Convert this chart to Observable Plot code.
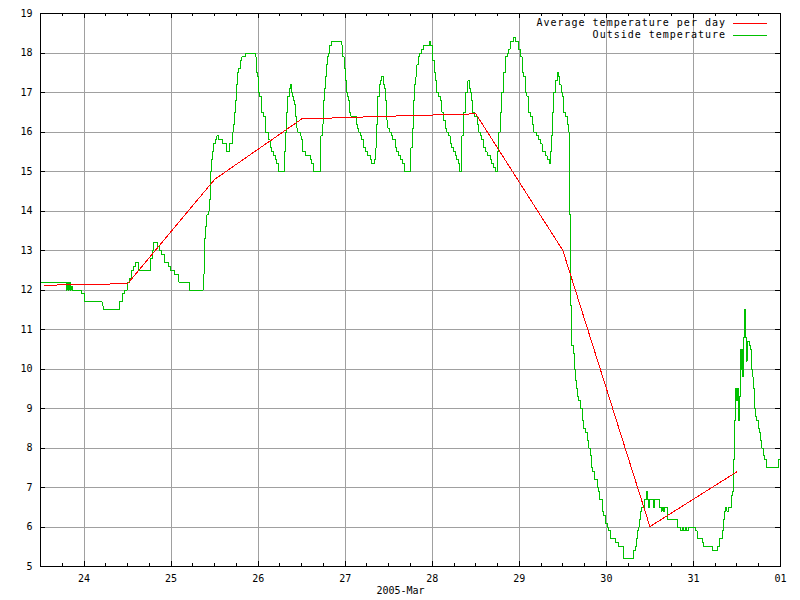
<!DOCTYPE html>
<html>
<head>
<meta charset="utf-8">
<script src="https://cdn.jsdelivr.net/npm/d3@7"></script>
<script src="https://cdn.jsdelivr.net/npm/@observablehq/plot@0.6"></script>
<style>
  html, body { margin: 0; padding: 0; background: #fff; }
  #chart svg path, #chart svg line { shape-rendering: crispEdges; }
</style>
</head>
<body>
<div id="chart"></div>
<script>
// Day-of-March (decimal), e.g. 23.5 = 2005-03-23 12:00, 32 = 2005-04-01 00:00
const avgDays = [23.54, 24.5, 25.5, 26.5, 27.5, 28.5, 29.5, 30.5, 31.5];
const avgTemp = [12.12, 12.16, 14.8, 16.33, 16.40, 16.46, 13.0, 6.01, 7.40];

const outsideDays = [
23.502,23.793,23.805,23.816,23.828,23.839,23.851,23.862,23.966,24.011,24.207,24.218,24.402,24.437,24.460,24.498,24.521,24.540,24.567,24.590,
24.621,24.762,24.782,24.797,24.843,24.866,24.893,24.923,24.969,24.989,25.034,25.089,25.210,25.368,25.379,25.387,25.399,25.410,25.425,25.437,
25.452,25.463,25.475,25.486,25.506,25.525,25.544,25.594,25.640,25.670,25.709,25.716,25.728,25.739,25.751,25.762,25.778,25.793,25.813,25.859,
25.966,25.977,25.985,25.992,26.003,26.017,26.043,26.061,26.080,26.118,26.138,26.149,26.176,26.195,26.215,26.233,26.302,26.318,26.330,26.341,
26.356,26.368,26.379,26.394,26.406,26.417,26.433,26.445,26.456,26.483,26.494,26.509,26.548,26.598,26.617,26.636,26.721,26.736,26.747,26.759,
26.770,26.785,26.797,26.808,26.820,26.847,26.962,26.974,26.989,27.000,27.011,27.026,27.038,27.049,27.066,27.126,27.141,27.153,27.172,27.192,
27.210,27.230,27.256,27.287,27.307,27.341,27.353,27.364,27.376,27.391,27.402,27.414,27.440,27.452,27.463,27.471,27.479,27.491,27.509,27.529,
27.548,27.575,27.594,27.613,27.640,27.659,27.682,27.755,27.778,27.790,27.801,27.813,27.824,27.839,27.859,27.882,27.900,27.966,27.977,27.997,
28.008,28.023,28.034,28.054,28.072,28.092,28.111,28.130,28.149,28.169,28.187,28.207,28.226,28.245,28.264,28.284,28.302,28.314,28.341,28.360,
28.379,28.399,28.410,28.429,28.437,28.448,28.463,28.483,28.514,28.532,28.552,28.571,28.590,28.609,28.629,28.667,28.686,28.705,28.724,28.751,
28.762,28.782,28.801,28.820,28.839,28.859,28.877,28.897,28.934,28.954,28.992,29.011,29.031,29.049,29.069,29.088,29.107,29.126,29.146,29.164,
29.203,29.222,29.241,29.261,29.299,29.318,29.348,29.356,29.368,29.379,29.394,29.414,29.433,29.452,29.463,29.479,29.494,29.509,29.529,29.548,
29.567,29.575,29.580,29.589,29.598,29.617,29.632,29.649,29.659,29.670,29.682,29.701,29.721,29.739,29.759,29.778,29.797,29.816,29.828,29.843,
29.866,29.893,29.911,29.923,29.951,29.969,29.989,30.008,30.026,30.046,30.103,30.141,30.199,30.314,30.333,30.345,30.353,30.364,30.379,30.391,
30.402,30.437,30.456,30.468,30.486,30.498,30.537,30.552,30.613,30.629,30.640,30.655,30.672,30.698,30.705,30.813,30.851,30.874,30.885,30.908,
30.920,30.946,31.023,31.043,31.100,31.118,31.215,31.279,31.299,31.330,31.348,31.356,31.368,31.385,31.406,31.433,31.445,31.456,31.463,31.475,
31.483,31.494,31.502,31.514,31.521,31.532,31.540,31.548,31.555,31.563,31.575,31.586,31.601,31.609,31.617,31.640,31.652,31.663,31.675,31.686,
31.698,31.705,31.716,31.724,31.751,31.762,31.770,31.782,31.808,31.820,31.836,31.980,32.000
];
const outsideTemp = [
12.2,12.0,12.2,12.0,12.2,12.0,12.1,12.0,11.9,11.7,11.6,11.5,11.7,11.9,12.0,12.2,12.3,12.5,12.6,12.7,
12.5,12.8,13.0,13.2,13.1,13.0,12.9,12.7,12.6,12.5,12.4,12.2,12.0,12.4,12.8,13.3,13.6,13.9,14.0,14.3,
15.0,15.3,15.5,15.7,15.8,15.9,15.8,15.7,15.5,15.7,16.0,16.2,16.5,16.8,17.2,17.5,17.6,17.8,17.9,18.0,
17.9,17.6,17.5,17.4,17.0,16.9,16.5,16.4,16.0,15.8,15.6,15.5,15.4,15.3,15.2,15.0,15.5,16.0,16.5,16.9,
17.1,17.2,17.0,16.9,16.8,16.7,16.4,16.1,16.0,15.9,15.8,15.5,15.4,15.3,15.2,15.0,15.9,16.2,16.8,17.1,
17.4,17.7,17.9,18.0,18.2,18.3,18.2,17.9,17.6,17.3,17.0,16.9,16.8,16.5,16.4,16.2,16.1,16.0,15.9,15.8,
15.6,15.5,15.4,15.3,15.2,15.3,15.6,16.2,16.9,17.2,17.3,17.4,17.2,17.1,16.8,16.5,16.3,16.1,16.0,15.9,
15.8,15.6,15.5,15.4,15.3,15.2,15.0,15.6,16.1,16.8,17.2,17.4,17.7,17.9,18.0,18.1,18.2,18.3,18.2,18.1,
17.8,17.5,17.3,17.0,16.9,16.8,16.5,16.3,16.1,16.0,15.9,15.7,15.6,15.5,15.4,15.3,15.2,15.0,15.9,16.5,
17.0,17.1,17.3,17.1,17.0,16.8,16.5,16.4,16.2,16.0,15.9,15.8,15.6,15.5,15.4,15.3,15.2,15.1,15.0,15.5,
16.0,16.5,17.0,17.5,17.9,18.0,18.1,18.3,18.4,18.3,18.1,17.9,17.5,17.4,17.0,16.9,16.5,16.4,16.2,16.0,
15.9,15.8,15.7,15.5,15.4,15.3,15.2,15.5,15.9,16.5,17.0,17.3,17.5,17.4,17.2,17.0,16.9,16.5,16.4,16.2,
16.0,15.8,13.9,11.6,10.6,10.4,10.0,9.7,9.5,9.3,9.2,9.0,8.7,8.5,8.4,8.2,8.0,7.8,7.5,7.4,
7.2,7.0,6.9,6.7,6.4,6.3,6.1,6.0,5.9,5.7,5.6,5.5,5.2,5.4,5.5,5.7,5.9,6.0,6.2,6.4,
6.5,6.7,6.9,6.7,6.5,6.7,6.5,6.7,6.5,6.4,6.5,6.4,6.5,6.3,6.2,6.0,5.9,6.0,5.9,6.0,
5.9,6.0,5.9,5.7,5.6,5.5,5.4,5.5,5.7,5.9,6.2,6.4,6.5,6.4,6.5,6.8,6.9,7.0,7.7,8.7,
9.5,9.2,9.5,9.0,8.7,9.3,10.5,10.0,10.5,9.8,10.8,11.5,10.8,10.2,10.7,10.6,10.5,10.0,9.8,9.5,
9.1,9.0,8.8,8.7,8.5,8.4,8.2,8.0,7.8,7.7,7.5,7.7,7.7
];

const xDomainDays = [23.5, 32];
const xTickDays = [24, 25, 26, 27, 28, 29, 30, 31, 32];
const xTickLabels = ["24", "25", "26", "27", "28", "29", "30", "31", "01"];
const yTicks = [5, 6, 7, 8, 9, 10, 11, 12, 13, 14, 15, 16, 17, 18, 19];
const xAxisLabel = "2005-Mar";
const seriesNames = ["Average temperature per day", "Outside temperature"];
const seriesColors = ["#ff0000", "#00c000"];

const toDate = d => new Date(Date.UTC(2005, 2, 1) + (d - 1) * 864e5);

const avg = avgDays.map((d, i) => ({date: toDate(d), temp: avgTemp[i]}));
const outside = outsideDays.map((d, i) => ({date: toDate(d), temp: outsideTemp[i]}));
const majorDates = xTickDays.map(toDate);
const minorDates = d3.utcHour.every(6).range(toDate(xDomainDays[0]), toDate(xDomainDays[1]));

const W = 800, H = 600, mL = 40, mR = 20, mT = 13, mB = 34;
const plotW = W - mL - mR, plotH = H - mT - mB;
const grid = "#a0a0a0";
const FONT = "'DejaVu Sans Mono', monospace";
const LS = "1px";

const svg = Plot.plot({
  width: W, height: H,
  marginLeft: mL, marginRight: mR, marginTop: mT, marginBottom: mB,
  style: {fontFamily: FONT, fontSize: "10px", background: "#fff", color: "#000"},
  x: {type: "utc", domain: xDomainDays.map(toDate), label: null},
  y: {domain: [yTicks[0], yTicks[yTicks.length - 1]], label: null},
  marks: [
    Plot.gridX(majorDates, {stroke: grid, strokeOpacity: 1}),
    Plot.gridY(yTicks, {stroke: grid, strokeOpacity: 1}),
    // inward minor ticks (6 h) bottom and top
    Plot.ruleX(minorDates, {x: d => d, insetTop: plotH - 3, stroke: "#000"}),
    Plot.ruleX(minorDates, {x: d => d, insetBottom: plotH - 3, stroke: "#000"}),
    // inward major ticks
    Plot.ruleX(majorDates, {x: d => d, insetTop: plotH - 5, stroke: "#000"}),
    Plot.ruleX(majorDates, {x: d => d, insetBottom: plotH - 5, stroke: "#000"}),
    Plot.ruleY(yTicks, {y: d => d, insetRight: plotW - 5, stroke: "#000"}),
    Plot.ruleY(yTicks, {y: d => d, insetLeft: plotW - 5, stroke: "#000"}),
    Plot.line(outside, {x: "date", y: "temp", curve: "step-after", stroke: seriesColors[1], strokeWidth: 1}),
    Plot.line(avg, {x: "date", y: "temp", stroke: seriesColors[0], strokeWidth: 1}),
    Plot.frame({stroke: "#000"}),
    Plot.axisX(majorDates, {
      tickSize: 0, tickPadding: 8, label: null,
      tickFormat: d => xTickLabels[majorDates.findIndex(t => +t === +d)],
      letterSpacing: LS
    }),
    Plot.axisY(yTicks, {tickSize: 0, tickPadding: 8, label: null, letterSpacing: LS}),
    Plot.text([xAxisLabel], {text: d => d, frameAnchor: "bottom", dx: -10, dy: 27, fill: "#000", letterSpacing: LS})
  ]
});

// Legend (top right, inside the frame), gnuplot style
const g = d3.select(svg).append("g").attr("font-family", FONT).attr("font-size", 10);
seriesNames.forEach((name, i) => {
  const y = 22.5 + i * 12;
  g.append("text").attr("x", 726).attr("y", y).attr("dy", "0.35em")
    .attr("text-anchor", "end").attr("letter-spacing", LS).attr("fill", "#000").text(name);
  g.append("line").attr("x1", 733).attr("x2", 767).attr("y1", y + 0.5).attr("y2", y + 0.5)
    .attr("stroke", seriesColors[i]).attr("stroke-width", 1);
});

document.getElementById("chart").appendChild(svg);
</script>
</body>
</html>
